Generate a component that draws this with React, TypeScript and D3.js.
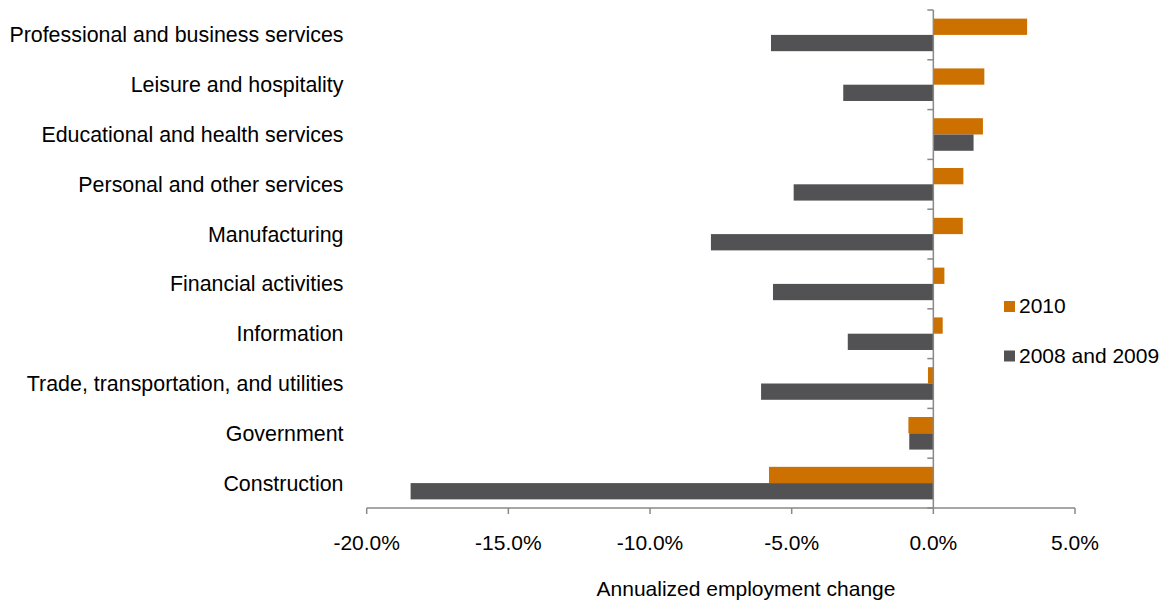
import React from "react";
import * as d3 from "d3";

const categories = [
  "Professional and business services",
  "Leisure and hospitality",
  "Educational and health services",
  "Personal and other services",
  "Manufacturing",
  "Financial activities",
  "Information",
  "Trade, transportation, and utilities",
  "Government",
  "Construction",
];
const series2010 = [3.31, 1.8, 1.75, 1.06, 1.04, 0.39, 0.33, -0.19, -0.88, -5.8];
const series0809 = [-5.73, -3.18, 1.42, -4.93, -7.85, -5.66, -3.02, -6.08, -0.85, -18.45];
const seriesNames = ["2010", "2008 and 2009"];
const seriesColors = ["#CC7000", "#525254"];
const xTicks = [-20, -15, -10, -5, 0, 5];

const W = 1165;
const H = 602;
const FONT = "'Liberation Sans', Arial, sans-serif";

const fmt = (t: number) => d3.format(".1f")(t).replace("\u2212", "-") + "%";

export default function App() {
  const x = d3.scaleLinear().domain([-20, 5]).range([366.7, 1075]);
  const y = d3.scaleBand<string>().domain(categories).range([10, 508]).padding(0);
  const bw = y.bandwidth();
  const ys = d3.scaleBand<string>().domain(seriesNames).range([bw * 0.173, bw * 0.827]).padding(0);
  const data = [series2010, series0809];
  const axisColor = "#898989";
  const x0 = x(0);

  return (
    <svg width={W} height={H} style={{ position: "absolute", left: 0, top: 0, background: "#fff" }} fontFamily={FONT}>
      {categories.map((c, i) =>
        seriesNames.map((s, k) => {
          const v = data[k][i];
          const xa = x(Math.min(0, v));
          const xb = x(Math.max(0, v));
          return (
            <rect
              key={c + s}
              x={xa}
              y={(y(c) as number) + (ys(s) as number)}
              width={xb - xa}
              height={ys.bandwidth()}
              fill={seriesColors[k]}
            />
          );
        })
      )}
      <line x1={x0} x2={x0} y1={10} y2={508} stroke={axisColor} strokeWidth={1.5} />
      {[...categories.map((c) => y(c) as number), 508].map((t, i) => (
        <line key={"yt" + i} x1={x0 - 6} x2={x0} y1={t} y2={t} stroke={axisColor} strokeWidth={1.5} />
      ))}
      <line x1={x(-20)} x2={x(5)} y1={508} y2={508} stroke={axisColor} strokeWidth={1.5} />
      {xTicks.map((t) => (
        <g key={"xt" + t}>
          <line x1={x(t)} x2={x(t)} y1={508} y2={514} stroke={axisColor} strokeWidth={1.5} />
          <text x={x(t)} y={550} textAnchor="middle" fontSize={21} fill="#000">
            {fmt(t)}
          </text>
        </g>
      ))}
      {categories.map((c) => (
        <text
          key={"lab" + c}
          x={343.5}
          y={(y(c) as number) + bw / 2 + 7.5}
          textAnchor="end"
          fontSize={21.4}
          fill="#000"
        >
          {c}
        </text>
      ))}
      <text x={746} y={596} textAnchor="middle" fontSize={21} fill="#000">
        Annualized employment change
      </text>
      {seriesNames.map((s, k) => (
        <g key={"lg" + s} transform={`translate(1004, ${301 + k * 49.5})`}>
          <rect x={0} y={0} width={11} height={11} fill={seriesColors[k]} />
          <text x={15} y={12.3} fontSize={21} fill="#000">
            {s}
          </text>
        </g>
      ))}
    </svg>
  );
}
